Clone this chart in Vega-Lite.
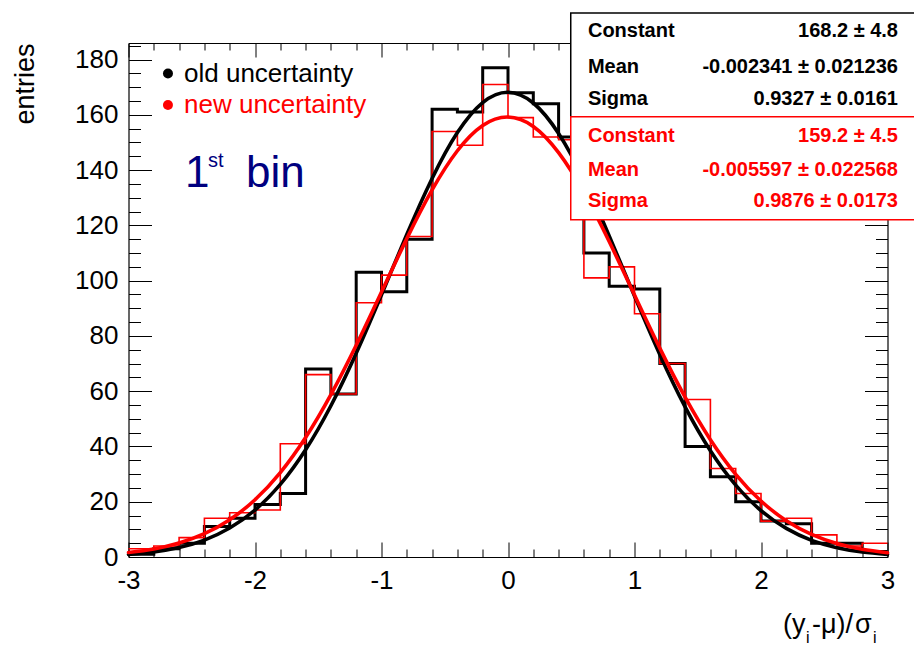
{
  "$schema": "https://vega.github.io/schema/vega-lite/v6.json",
  "width": 759,
  "height": 514,
  "autosize": {"type": "none"},
  "padding": {"left": 128.5, "top": 43, "right": 26.5, "bottom": 91},
  "background": "white",
  "config": {
    "view": {"stroke": null},
    "font": "Liberation Sans",
    "axis": {"labelFont": "Liberation Sans", "titleFont": "Liberation Sans", "grid": false}
  },
  "datasets": {
    "hist": [
      {"lo": -3.0, "hi": -2.8, "old": 1, "new": 3},
      {"lo": -2.8, "hi": -2.6, "old": 3, "new": 4},
      {"lo": -2.6, "hi": -2.4, "old": 5, "new": 7},
      {"lo": -2.4, "hi": -2.2, "old": 11, "new": 14},
      {"lo": -2.2, "hi": -2.0, "old": 14, "new": 16},
      {"lo": -2.0, "hi": -1.8, "old": 19, "new": 17},
      {"lo": -1.8, "hi": -1.6, "old": 23, "new": 41},
      {"lo": -1.6, "hi": -1.4, "old": 68, "new": 66},
      {"lo": -1.4, "hi": -1.2, "old": 59, "new": 59},
      {"lo": -1.2, "hi": -1.0, "old": 103, "new": 92},
      {"lo": -1.0, "hi": -0.8, "old": 96, "new": 102},
      {"lo": -0.8, "hi": -0.6, "old": 115, "new": 116},
      {"lo": -0.6, "hi": -0.4, "old": 162, "new": 154},
      {"lo": -0.4, "hi": -0.2, "old": 161, "new": 149},
      {"lo": -0.2, "hi": 0.0, "old": 177, "new": 171},
      {"lo": 0.0, "hi": 0.2, "old": 168, "new": 159},
      {"lo": 0.2, "hi": 0.4, "old": 164, "new": 152},
      {"lo": 0.4, "hi": 0.6, "old": 152, "new": 151},
      {"lo": 0.6, "hi": 0.8, "old": 110, "new": 101},
      {"lo": 0.8, "hi": 1.0, "old": 98, "new": 105},
      {"lo": 1.0, "hi": 1.2, "old": 97, "new": 88},
      {"lo": 1.2, "hi": 1.4, "old": 70, "new": 70},
      {"lo": 1.4, "hi": 1.6, "old": 40, "new": 57},
      {"lo": 1.6, "hi": 1.8, "old": 29, "new": 32},
      {"lo": 1.8, "hi": 2.0, "old": 20, "new": 23},
      {"lo": 2.0, "hi": 2.2, "old": 13, "new": 13},
      {"lo": 2.2, "hi": 2.4, "old": 12, "new": 14},
      {"lo": 2.4, "hi": 2.6, "old": 5, "new": 8},
      {"lo": 2.6, "hi": 2.8, "old": 5, "new": 4},
      {"lo": 2.8, "hi": 3.0, "old": 2, "new": 5}
    ],
    "fits": [
      {"x": -3.0, "old": 0.96, "new": 1.61},
      {"x": -2.8, "old": 1.81, "new": 2.91},
      {"x": -2.6, "old": 3.40, "new": 5.05},
      {"x": -2.4, "old": 6.11, "new": 8.42},
      {"x": -2.2, "old": 10.48, "new": 13.49},
      {"x": -2.0, "old": 16.97, "new": 20.72},
      {"x": -1.8, "old": 26.25, "new": 30.56},
      {"x": -1.6, "old": 38.78, "new": 43.25},
      {"x": -1.4, "old": 54.73, "new": 58.76},
      {"x": -1.2, "old": 73.75, "new": 76.62},
      {"x": -1.0, "old": 94.92, "new": 95.89},
      {"x": -0.8, "old": 116.68, "new": 115.20},
      {"x": -0.6, "old": 136.98, "new": 132.83},
      {"x": -0.4, "old": 153.59, "new": 147.00},
      {"x": -0.2, "old": 164.46, "new": 156.14},
      {"x": 0.0, "old": 168.20, "new": 159.20},
      {"x": 0.2, "old": 164.29, "new": 155.79},
      {"x": 0.4, "old": 153.26, "new": 146.32},
      {"x": 0.6, "old": 136.55, "new": 131.91},
      {"x": 0.8, "old": 116.19, "new": 114.15},
      {"x": 1.0, "old": 94.42, "new": 94.80},
      {"x": 1.2, "old": 73.28, "new": 75.57},
      {"x": 1.4, "old": 54.32, "new": 57.82},
      {"x": 1.6, "old": 38.45, "new": 42.46},
      {"x": 1.8, "old": 26.00, "new": 29.93},
      {"x": 2.0, "old": 16.79, "new": 20.25},
      {"x": 2.2, "old": 10.35, "new": 13.15},
      {"x": 2.4, "old": 6.03, "new": 8.20},
      {"x": 2.6, "old": 3.35, "new": 4.90},
      {"x": 2.8, "old": 1.78, "new": 2.81},
      {"x": 3.0, "old": 0.95, "new": 1.55}
    ],
    "stats": [
      {"set": "old", "name": "Constant", "val": "168.2 ± 4.8", "y": 188.06},
      {"set": "old", "name": "Mean", "val": "-0.002341 ± 0.021236", "y": 175.03},
      {"set": "old", "name": "Sigma", "val": "0.9327 ± 0.0161", "y": 163.56},
      {"set": "new", "name": "Constant", "val": "159.2 ± 4.5", "y": 150.28},
      {"set": "new", "name": "Mean", "val": "-0.005597 ± 0.022568", "y": 137.98},
      {"set": "new", "name": "Sigma", "val": "0.9876 ± 0.0173", "y": 126.55}
    ],
    "legend": [
      {"set": "old", "label": "old uncertainty", "y": 174.96},
      {"set": "new", "label": "new uncertainty", "y": 163.56}
    ]
  },
  "layer": [
    {
      "data": {"name": "hist"},
      "transform": [{"fold": ["lo", "hi"], "as": ["edge", "x"]}],
      "mark": {"type": "line", "color": "#000000", "strokeWidth": 3, "strokeJoin": "miter"},
      "encoding": {
        "x": {
          "field": "x", "type": "quantitative",
          "scale": {"domain": [-3, 3], "nice": false, "zero": false},
          "axis": {
            "orient": "bottom",
            "title": null,
            "values": [-3, -2.8, -2.6, -2.4, -2.2, -2, -1.8, -1.6, -1.4, -1.2, -1, -0.8, -0.6, -0.4, -0.2, 0, 0.2, 0.4, 0.6, 0.8, 1, 1.2, 1.4, 1.6, 1.8, 2, 2.2, 2.4, 2.6, 2.8, 3],
            "labelExpr": "abs(datum.value - round(datum.value)) < 0.001 ? '' + round(datum.value) : ''",
            "tickSize": {"condition": {"test": "abs(datum.value - round(datum.value)) < 0.001", "value": -15}, "value": -8},
            "labelPadding": 25,
            "labelFontSize": 26,
            "labelColor": "#000000",
            "labelFlush": false,
            "labelOverlap": false,
            "labelBound": false,
            "tickColor": "#000000",
            "tickWidth": 1,
            "domainColor": "#000000",
            "domainWidth": 1.2
          }
        },
        "y": {
          "field": "old", "type": "quantitative",
          "scale": {"domain": [0, 186], "nice": false, "zero": false},
          "axis": {
            "orient": "left",
            "title": "entries",
            "titleFontSize": 27,
            "titleFontWeight": "normal",
            "titleColor": "#000000",
            "titleAngle": -90,
            "titleAlign": "right",
            "titleBaseline": "alphabetic",
            "titleX": -95,
            "titleY": 0,
            "values": [0, 5, 10, 15, 20, 25, 30, 35, 40, 45, 50, 55, 60, 65, 70, 75, 80, 85, 90, 95, 100, 105, 110, 115, 120, 125, 130, 135, 140, 145, 150, 155, 160, 165, 170, 175, 180, 185],
            "labelExpr": "datum.value % 20 === 0 ? '' + datum.value : ''",
            "tickSize": {"condition": {"test": "datum.value % 20 === 0", "value": -23}, "value": -12},
            "labelPadding": 33.5,
            "labelFontSize": 26,
            "labelColor": "#000000",
            "labelFlush": false,
            "labelOverlap": false,
            "labelBound": false,
            "tickColor": "#000000",
            "tickWidth": 1,
            "domainColor": "#000000",
            "domainWidth": 1.2
          }
        },
        "order": [
          {"field": "lo", "type": "quantitative"},
          {"field": "edge", "type": "nominal", "sort": "descending"}
        ]
      }
    },
    {
      "data": {"name": "hist"},
      "transform": [{"fold": ["lo", "hi"], "as": ["edge", "x"]}],
      "mark": {"type": "line", "color": "#ff0000", "strokeWidth": 1.6, "strokeJoin": "miter"},
      "encoding": {
        "x": {
          "field": "x", "type": "quantitative",
          "scale": {"domain": [-3, 3], "nice": false, "zero": false},
          "axis": {
            "orient": "top",
            "title": null,
            "values": [-3, -2.8, -2.6, -2.4, -2.2, -2, -1.8, -1.6, -1.4, -1.2, -1, -0.8, -0.6, -0.4, -0.2, 0, 0.2, 0.4, 0.6, 0.8, 1, 1.2, 1.4, 1.6, 1.8, 2, 2.2, 2.4, 2.6, 2.8, 3],
            "labels": false,
            "tickSize": {"condition": {"test": "abs(datum.value - round(datum.value)) < 0.001", "value": -14}, "value": -7},
            "tickColor": "#000000",
            "tickWidth": 1,
            "domainColor": "#000000",
            "domainWidth": 1.2
          }
        },
        "y": {
          "field": "new", "type": "quantitative",
          "scale": {"domain": [0, 186], "nice": false, "zero": false},
          "axis": {
            "orient": "right",
            "title": null,
            "values": [0, 5, 10, 15, 20, 25, 30, 35, 40, 45, 50, 55, 60, 65, 70, 75, 80, 85, 90, 95, 100, 105, 110, 115, 120, 125, 130, 135, 140, 145, 150, 155, 160, 165, 170, 175, 180, 185],
            "labels": false,
            "tickSize": {"condition": {"test": "datum.value % 20 === 0", "value": -23}, "value": -12},
            "tickColor": "#000000",
            "tickWidth": 1,
            "domainColor": "#000000",
            "domainWidth": 1.2
          }
        },
        "order": [
          {"field": "lo", "type": "quantitative"},
          {"field": "edge", "type": "nominal", "sort": "descending"}
        ]
      }
    },
    {
      "data": {"name": "fits"},
      "mark": {"type": "line", "color": "#000000", "strokeWidth": 3.6, "interpolate": "natural", "strokeCap": "round"},
      "encoding": {
        "x": {"field": "x", "type": "quantitative", "scale": {"domain": [-3, 3], "nice": false, "zero": false}, "axis": null},
        "y": {"field": "old", "type": "quantitative", "scale": {"domain": [0, 186], "nice": false, "zero": false}, "axis": null}
      }
    },
    {
      "data": {"name": "fits"},
      "mark": {"type": "line", "color": "#ff0000", "strokeWidth": 3.6, "interpolate": "natural", "strokeCap": "round"},
      "encoding": {
        "x": {"field": "x", "type": "quantitative", "scale": {"domain": [-3, 3], "nice": false, "zero": false}, "axis": null},
        "y": {"field": "new", "type": "quantitative", "scale": {"domain": [0, 186], "nice": false, "zero": false}, "axis": null}
      }
    },
    {
      "data": {"values": [{}]},
      "mark": {"type": "rect", "fill": "#ffffff", "stroke": "#000000", "strokeWidth": 1.5},
      "encoding": {
        "x": {"datum": 0.496, "type": "quantitative", "scale": {"domain": [-3, 3], "nice": false, "zero": false}, "axis": null},
        "x2": {"datum": 3.6},
        "y": {"datum": 196.9, "type": "quantitative", "scale": {"domain": [0, 186], "nice": false, "zero": false}, "axis": null},
        "y2": {"datum": 159.3}
      }
    },
    {
      "data": {"values": [{}]},
      "mark": {"type": "rect", "fill": "#ffffff", "stroke": "#ff0000", "strokeWidth": 1.5},
      "encoding": {
        "x": {"datum": 0.496, "type": "quantitative", "scale": {"domain": [-3, 3], "nice": false, "zero": false}, "axis": null},
        "x2": {"datum": 3.6},
        "y": {"datum": 159.3, "type": "quantitative", "scale": {"domain": [0, 186], "nice": false, "zero": false}, "axis": null},
        "y2": {"datum": 122.0}
      }
    },
    {
      "data": {"name": "stats"},
      "mark": {"type": "text", "align": "left", "baseline": "alphabetic", "fontSize": 20, "fontWeight": "bold", "font": "Liberation Sans"},
      "encoding": {
        "x": {"datum": 0.632, "type": "quantitative", "scale": {"domain": [-3, 3], "nice": false, "zero": false}, "axis": null},
        "y": {"field": "y", "type": "quantitative", "scale": {"domain": [0, 186], "nice": false, "zero": false}, "axis": null},
        "text": {"field": "name"},
        "color": {"field": "set", "type": "nominal", "scale": {"domain": ["old", "new"], "range": ["#000000", "#ff0000"]}, "legend": null}
      }
    },
    {
      "data": {"name": "stats"},
      "mark": {"type": "text", "align": "right", "baseline": "alphabetic", "fontSize": 20, "fontWeight": "bold", "font": "Liberation Sans"},
      "encoding": {
        "x": {"datum": 3.083, "type": "quantitative", "scale": {"domain": [-3, 3], "nice": false, "zero": false}, "axis": null},
        "y": {"field": "y", "type": "quantitative", "scale": {"domain": [0, 186], "nice": false, "zero": false}, "axis": null},
        "text": {"field": "val"},
        "color": {"field": "set", "type": "nominal", "scale": {"domain": ["old", "new"], "range": ["#000000", "#ff0000"]}, "legend": null}
      }
    },
    {
      "data": {"name": "legend"},
      "mark": {"type": "circle", "size": 100, "opacity": 1},
      "encoding": {
        "x": {"datum": -2.688, "type": "quantitative", "scale": {"domain": [-3, 3], "nice": false, "zero": false}, "axis": null},
        "y": {"field": "y", "type": "quantitative", "scale": {"domain": [0, 186], "nice": false, "zero": false}, "axis": null},
        "color": {"field": "set", "type": "nominal", "scale": {"domain": ["old", "new"], "range": ["#000000", "#ff0000"]}, "legend": null}
      }
    },
    {
      "data": {"name": "legend"},
      "mark": {"type": "text", "align": "left", "baseline": "middle", "fontSize": 26, "font": "Liberation Sans"},
      "encoding": {
        "x": {"datum": -2.561, "type": "quantitative", "scale": {"domain": [-3, 3], "nice": false, "zero": false}, "axis": null},
        "y": {"field": "y", "type": "quantitative", "scale": {"domain": [0, 186], "nice": false, "zero": false}, "axis": null},
        "text": {"field": "label"},
        "color": {"field": "set", "type": "nominal", "scale": {"domain": ["old", "new"], "range": ["#000000", "#ff0000"]}, "legend": null}
      }
    },
    {
      "data": {"values": [{"t": "1", "x": -2.553}, {"t": "bin", "x": -2.071}]},
      "mark": {"type": "text", "align": "left", "baseline": "alphabetic", "fontSize": 44, "font": "Liberation Sans", "color": "#000080"},
      "encoding": {
        "x": {"field": "x", "type": "quantitative", "scale": {"domain": [-3, 3], "nice": false, "zero": false}, "axis": null},
        "y": {"datum": 134.0, "type": "quantitative", "scale": {"domain": [0, 186], "nice": false, "zero": false}, "axis": null},
        "text": {"field": "t"}
      }
    },
    {
      "data": {"values": [{"t": "st"}]},
      "mark": {"type": "text", "align": "left", "baseline": "alphabetic", "fontSize": 20, "font": "Liberation Sans", "color": "#000080"},
      "encoding": {
        "x": {"datum": -2.372, "type": "quantitative", "scale": {"domain": [-3, 3], "nice": false, "zero": false}, "axis": null},
        "y": {"datum": 141.2, "type": "quantitative", "scale": {"domain": [0, 186], "nice": false, "zero": false}, "axis": null},
        "text": {"field": "t"}
      }
    },
    {
      "data": {"values": [{"t": "(y", "x": 2.174}, {"t": "-μ)/", "x": 2.403}, {"t": "σ", "x": 2.743}]},
      "mark": {"type": "text", "align": "left", "baseline": "alphabetic", "fontSize": 27, "font": "Liberation Sans", "color": "#000000"},
      "encoding": {
        "x": {"field": "x", "type": "quantitative", "scale": {"domain": [-3, 3], "nice": false, "zero": false}, "axis": null},
        "y": {"datum": -27.5, "type": "quantitative", "scale": {"domain": [0, 186], "nice": false, "zero": false}, "axis": null},
        "text": {"field": "t"}
      }
    },
    {
      "data": {"values": [{"t": "i", "x": 2.356}, {"t": "i", "x": 2.885}]},
      "mark": {"type": "text", "align": "left", "baseline": "alphabetic", "fontSize": 16, "font": "Liberation Sans", "color": "#000000"},
      "encoding": {
        "x": {"field": "x", "type": "quantitative", "scale": {"domain": [-3, 3], "nice": false, "zero": false}, "axis": null},
        "y": {"datum": -31.3, "type": "quantitative", "scale": {"domain": [0, 186], "nice": false, "zero": false}, "axis": null},
        "text": {"field": "t"}
      }
    }
  ],
  "resolve": {"axis": {"x": "independent", "y": "independent"}}
}
